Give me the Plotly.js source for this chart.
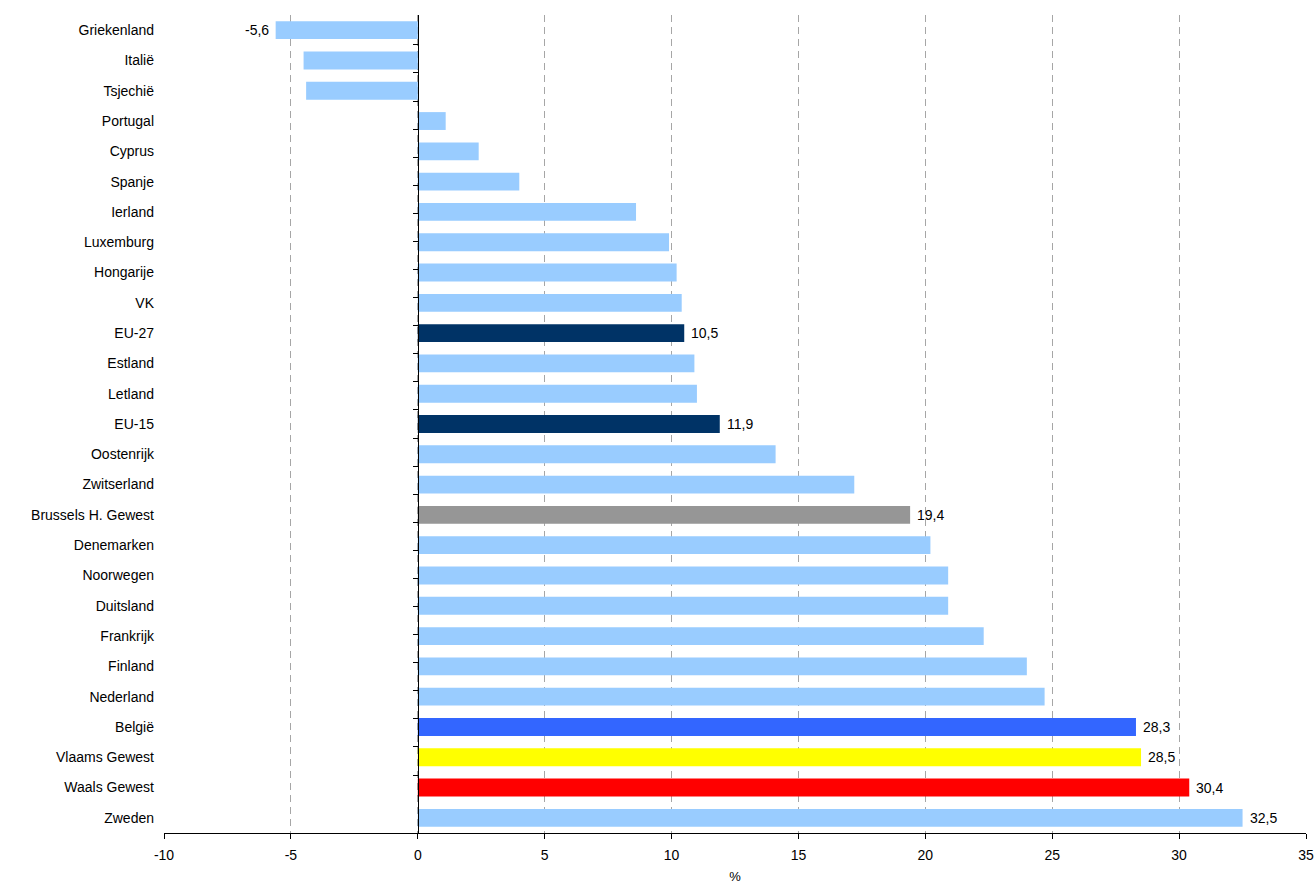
<!DOCTYPE html>
<html>
<head>
<meta charset="utf-8">
<script src="https://cdn.plot.ly/plotly-3.0.1.min.js"></script>
<style>html,body{margin:0;padding:0;background:#fff;}#chart{width:1315px;height:884px;}</style>
</head>
<body>
<div id="chart"></div>
<script>
const categories = ['Griekenland','Italië','Tsjechië','Portugal','Cyprus','Spanje','Ierland','Luxemburg','Hongarije','VK','EU-27','Estland','Letland','EU-15','Oostenrijk','Zwitserland','Brussels H. Gewest','Denemarken','Noorwegen','Duitsland','Frankrijk','Finland','Nederland','België','Vlaams Gewest','Waals Gewest','Zweden'];
const values = [-5.6,-4.5,-4.4,1.1,2.4,4.0,8.6,9.9,10.2,10.4,10.5,10.9,11.0,11.9,14.1,17.2,19.4,20.2,20.9,20.9,22.3,24.0,24.7,28.3,28.5,30.4,32.5];
const labelled = ['Griekenland','EU-27','EU-15','Brussels H. Gewest','België','Vlaams Gewest','Waals Gewest','Zweden'];
const highlight = {'EU-27':'#003366','EU-15':'#003366','Brussels H. Gewest':'#969696','België':'#3366FF','Vlaams Gewest':'#FFFF00','Waals Gewest':'#FF0000'};
const baseColor = '#99CCFF';
const tickValues = [-10,-5,0,5,10,15,20,25,30,35];
const tickLabels = ['-10','-5','0','5','10','15','20','25','30','35'];

const colors = categories.map(c => highlight[c] || baseColor);

const font = 'Liberation Sans, Arial, sans-serif';

const annotations = [];
categories.forEach((c, i) => {
  if (!labelled.includes(c)) return;
  const v = values[i];
  annotations.push({
    x: v, y: c, xref: 'x', yref: 'y',
    text: v.toFixed(1).replace('.', ','),
    showarrow: false,
    xanchor: v < 0 ? 'right' : 'left',
    xshift: v < 0 ? -5 : 5,
    font: {family: font, size: 14, color: '#000'}
  });
});

const data = [
  {
    type: 'bar', orientation: 'h',
    x: values, y: categories,
    marker: {color: colors, line: {width: 0}},
    hoverinfo: 'x+y', yaxis: 'y'
  },
  {
    type: 'scatter', mode: 'markers',
    x: values, y: categories, yaxis: 'y2',
    marker: {opacity: 0, size: 1}, hoverinfo: 'skip', showlegend: false
  }
];

const layout = {
  width: 1315, height: 884,
  margin: {l: 164, r: 9, t: 15, b: 51},
  paper_bgcolor: '#fff', plot_bgcolor: '#fff',
  showlegend: false,
  bargap: 0.41,
  font: {family: font, size: 14, color: '#000'},
  annotations: annotations,
  xaxis: {
    range: [-10, 35], tickvals: tickValues, ticktext: tickLabels,
    showgrid: true, gridcolor: '#a6a6a6', gridwidth: 1, griddash: '7px,5px',
    zeroline: false,
    showline: true, linecolor: '#000', linewidth: 1,
    ticks: 'outside', ticklen: 5, tickcolor: '#000', ticklabelstandoff: 4,
    tickfont: {family: font, size: 14, color: '#000'},
    title: {text: '%', font: {family: font, size: 13, color: '#000'}, standoff: 12},
    fixedrange: true
  },
  yaxis: {
    type: 'category', categoryarray: categories, categoryorder: 'array',
    autorange: 'reversed', showgrid: false, zeroline: false, showline: false,
    ticks: '', ticklabelstandoff: 9,
    tickfont: {family: font, size: 14, color: '#000'}, fixedrange: true
  },
  yaxis2: {
    type: 'category', categoryarray: categories, categoryorder: 'array',
    autorange: 'reversed', overlaying: 'y', anchor: 'free', position: 10/45, side: 'left',
    showgrid: false, zeroline: false, showline: true, linecolor: '#000', linewidth: 1,
    ticks: 'outside', tickson: 'boundaries', ticklen: 5, tickcolor: '#000',
    showticklabels: false, fixedrange: true
  }
};

Plotly.newPlot('chart', data, layout, {displayModeBar: false, staticPlot: true});
</script>
</body>
</html>
